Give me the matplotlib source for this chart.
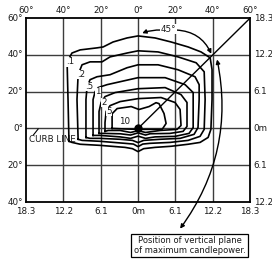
import matplotlib
matplotlib.use("Agg")
import matplotlib.pyplot as plt

# Iso-footcandle contour traces (degrees: x across, y along street side)
LEVELS = [".1", ".2", ".5", "1", "2", "5", "10"]

ISO_01_X = [-37, -37.5, -38, -35.4, -31, -22, -18.7, -13.4, -5.9, 0, 9.1, 17.7, 26.8, 33.7, 38.6,
            39.6, 39.6, 39, 37.5, 33.2, 26.8, 17.7, 9.1, 3, 0, -3, -7, -20.4, -31, -35.4]
ISO_01_Y = [-7, 15.7, 36.2, 41, 42.7, 43.8, 44.3, 47, 49.2, 50.3, 49.2, 47, 44.3, 41.6, 38.4,
            32, 15.7, -0.5, -4.9, -7.6, -8.6, -9.7, -10.3, -11, -12.6, -11, -10.3, -9.2, -8.6, -7.6]

ISO_02_X = [-32.1, -32.7, -32.1, -30, -25.7, -19.3, -15, -5.9, 0, 10.7, 21.4, 31.1, 35.4,
            35.9, 35.4, 33.2, 26.8, 17.1, 6.4, 2.5, 0, -2.5, -7, -20.4, -30]
ISO_02_Y = [-5.9, 15.7, 29.2, 34.6, 36.2, 36.2, 38.9, 41, 42.2, 41.6, 38.9, 35.7, 30.8,
            15.7, -0.5, -4.3, -6.5, -7.6, -8.1, -8.5, -9.9, -8.5, -8.1, -7, -6.5]

ISO_05_X = [-27.9, -27.9, -27.3, -25.7, -22, -15, -5.9, 0, 10.7, 21.4, 30.5, 32.7,
            32.7, 32.1, 30, 22.5, 11.8, 3, 0, -3, -9.6, -20.4, -25.7]
ISO_05_Y = [-4.9, 15.7, 22.7, 26.5, 28.1, 29.2, 33, 34.6, 34.6, 31.9, 28.1, 23.8,
            15.7, 0.5, -3.2, -5.4, -5.9, -6.5, -7.7, -6.5, -5.9, -5.4, -5.4]

ISO_1_X = [-24.1, -24.1, -23, -21.4, -16.6, -9.6, 0, 14.5, 25.2, 29.5, 29.5, 27.3,
           19.8, 9.1, 4, 0, -4, -9.6, -20.4]
ISO_1_Y = [-3.8, 15.7, 20, 22.2, 23.8, 25.4, 27.6, 27.6, 23.8, 19.5, 0.5, -2.7,
           -4.3, -4.6, -5.4, -4.2, -5.4, -4.6, -3.8]

ISO_2_X = [-20.9, -20.9, -19.8, -17.7, -12.3, 0, 14.5, 23, 26.2, 26.2, 24.1, 17.1,
           6.4, 4, 0, -4, -9.6, -18.7]
ISO_2_Y = [-2.7, 9.2, 14.1, 17.3, 19.5, 21.6, 22.2, 18.4, 14.1, 1.1, -1.6, -2.7,
           -2.9, -3.6, -2.4, -3.6, -2.9, -2.7]

ISO_5_X = [-17.7, -17.7, -17.1, -15, -9.6, 0, 12.3, 19.8, 22.5, 23, 20.9, 11.8,
           4, 0, -4, -9.6, -16]
ISO_5_Y = [-1.6, 3.2, 9.2, 12.4, 14.6, 16.2, 16.8, 14.1, 10.3, 1.6, -0.5, -1.1,
           -2.2, -1.2, -2.2, -1.1, -1.1]

ISO_10_X = [-13.9, -13.9, -11.2, -3.7, 0.5, 5.9, 9.6, 11.2, 13.9, 15, 12.9, 0.5, -7]
ISO_10_Y = [0, 8, 10.8, 11.9, 10.3, 11.9, 14, 13.5, 8.1, 2.7, -0.5, -0.5, -0.3]

CONTOURS = [(ISO_01_X, ISO_01_Y), (ISO_02_X, ISO_02_Y), (ISO_05_X, ISO_05_Y),
            (ISO_1_X, ISO_1_Y), (ISO_2_X, ISO_2_Y), (ISO_5_X, ISO_5_Y), (ISO_10_X, ISO_10_Y)]
# vertex of each trace where its value label sits
LABEL_VERTEX = [2, 2, 2, 2, 2, 2, -1]

DEG_TICKS = [-60, -40, -20, 0, 20, 40, 60]
DEG_LABELS = ["60°", "40°", "20°", "0°", "20°", "40°", "60°"]
ROW_TICKS = [60, 40, 20, 0, -20, -40]
ROW_DEG = ["60°", "40°", "20°", "0°", "20°", "40°"]
ROW_M = ["18.3", "12.2", "6.1", "0m", "6.1", "12.2"]
COL_M = ["18.3", "12.2", "6.1", "0m", "6.1", "12.2", "18.3"]

INK = "#1a1a1a"
NARROW = ["Liberation Sans Narrow", "DejaVu Sans"]

fig = plt.figure(figsize=(2.72, 2.62), dpi=100)
fig.patch.set_facecolor("white")
ax = fig.add_axes([0.0956, 0.229, 0.824, 0.702])
ax.set_xlim(-60, 60)
ax.set_ylim(-40, 60)

for v in [-40, -20, 0, 20, 40]:
    ax.axvline(v, color="#3c3c3c", lw=1.0, zorder=1)
for v in [40, 20, 0, -20]:
    ax.axhline(v, color="#3c3c3c", lw=1.0, zorder=1)
for s in ax.spines.values():
    s.set_linewidth(1.3)
    s.set_color("black")

ax.plot([0, 60], [0, 60], color="black", lw=1.0, zorder=3)

for (xs, ys), lab, vi in zip(CONTOURS, LEVELS, LABEL_VERTEX):
    ax.plot(xs + xs[:1], ys + ys[:1], color="black", lw=1.2, zorder=4,
            solid_joinstyle="round")
    if vi < 0:
        ax.text(xs[vi], ys[vi] + 3.8, lab, fontsize=6.3, family=NARROW, color=INK,
                ha="center", va="center", zorder=5)
    else:
        ax.text(xs[vi] + 1.4, ys[vi], lab, fontsize=6.3, family=NARROW, color=INK,
                ha="center", va="center", zorder=5,
                bbox=dict(facecolor="white", edgecolor="none", pad=0.2))

ax.plot([0], [0], marker="o", ms=5, color="black", zorder=6)

# tick labels
ax.set_xticks([])
ax.set_yticks([])
for v, t in zip(DEG_TICKS, DEG_LABELS):
    ax.text(v, 61.5, t, fontsize=6.3, family=NARROW, color=INK, ha="center", va="bottom")
for v, t in zip(DEG_TICKS, COL_M):
    ax.text(v, -42.5, t, fontsize=6.3, family=NARROW, color=INK, ha="center", va="top")
for v, t in zip(ROW_TICKS, ROW_DEG):
    ax.text(-61.5, v, t, fontsize=6.3, family=NARROW, color=INK, ha="right", va="center")
for v, t in zip(ROW_TICKS, ROW_M):
    ax.text(62, v, t, fontsize=6.3, family=NARROW, color=INK, ha="left", va="center")

# curb line
ax.text(-58.5, -6, "CURB LINE", fontsize=6.3, family=NARROW, color=INK,
        ha="left", va="center")
ax.plot([-56, -53.5], [-3.5, -0.3], color="black", lw=0.8)

# 45 degree arc
ax.text(16.3, 54, "45°", fontsize=6.3, family=NARROW, color=INK, ha="center",
        va="center", zorder=7, bbox=dict(facecolor="white", edgecolor="none", pad=0.3))
ax.annotate("", xy=(2.2, 51.8), xytext=(12.5, 53.5),
            arrowprops=dict(arrowstyle="-|>", color="black", lw=1.0, mutation_scale=6,
                            shrinkA=0, shrinkB=0, connectionstyle="arc3,rad=0.1"))
ax.annotate("", xy=(39.2, 40.6), xytext=(20.5, 53.5),
            arrowprops=dict(arrowstyle="-|>", color="black", lw=1.0, mutation_scale=6,
                            shrinkA=0, shrinkB=0, connectionstyle="arc3,rad=-0.3"))

# plane of maximum candlepower
ax.annotate("", xy=(42.3, 37.5), xytext=(22.5, -54.5), annotation_clip=False,
            arrowprops=dict(arrowstyle="<|-|>", color="black", lw=1.0, mutation_scale=6,
                            shrinkA=0, shrinkB=0, connectionstyle="arc3,rad=0.22"))
fig.text(0.697, 0.063, "Position of vertical plane\nof maximum candlepower.",
         fontsize=6, color=INK, ha="center", va="center", linespacing=1.1,
         bbox=dict(boxstyle="square,pad=0.3", facecolor="white", edgecolor="black", lw=0.9))

fig.savefig("out.png", dpi=100, facecolor="white")
